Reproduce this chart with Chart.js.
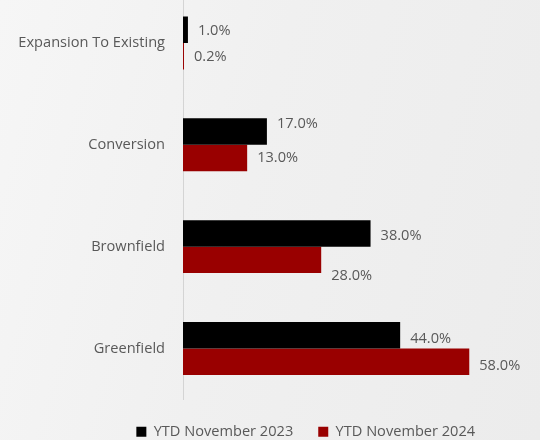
<!DOCTYPE html>
<html><head><meta charset="utf-8">
<script src="https://cdn.jsdelivr.net/npm/chart.js@4/dist/chart.umd.min.js"></script>
<style>
html,body{margin:0;padding:0;width:540px;height:440px;overflow:hidden;}
body{background:linear-gradient(105deg,#f6f6f6 0%,#f0f0f0 45%,#ececec 100%);}
#wrap{position:absolute;left:0;top:-8px;width:540px;height:457px;}
</style></head><body>
<div id="wrap"><canvas id="c"></canvas></div>
<script>
const categories = ['Expansion To Existing', 'Conversion', 'Brownfield', 'Greenfield'];
const seriesNames = ['YTD November 2023', 'YTD November 2024'];
const values2023 = [1.0, 17.0, 38.0, 44.0];
const values2024 = [0.2, 13.0, 28.0, 58.0];
const labelShift2023 = [1, -8, 2, 4];
const labelShift2024 = [1, 0, 16, 4];

const textColor = '#595959';
const fontFamily = '"Open Sans", "Noto Sans", sans-serif';
const fontSize = 14.6;

const valueLabels = {
  id: 'valueLabels',
  afterLayout(chart) { chart.scales.y.left = 0; },
  afterDatasetsDraw(chart) {
    const ctx = chart.ctx;
    const shifts = [labelShift2023, labelShift2024];
    ctx.save();
    ctx.font = fontSize + 'px ' + fontFamily;
    ctx.fillStyle = textColor;
    ctx.textAlign = 'left';
    ctx.textBaseline = 'middle';
    chart.data.datasets.forEach((ds, di) => {
      const meta = chart.getDatasetMeta(di);
      meta.data.forEach((bar, i) => {
        ctx.fillText(ds.data[i].toFixed(1) + '%', bar.x + 10, bar.y + shifts[di][i]);
      });
    });
    ctx.restore();
  }
};

new Chart(document.getElementById('c'), {
  type: 'bar',
  data: {
    labels: categories,
    datasets: [
      { label: seriesNames[0], data: values2023, backgroundColor: '#000000', borderWidth: 0,
        categoryPercentage: 0.52, barPercentage: 1.0 },
      { label: seriesNames[1], data: values2024, backgroundColor: '#990000', borderWidth: 0,
        categoryPercentage: 0.52, barPercentage: 1.0 }
    ]
  },
  options: {
    indexAxis: 'y',
    responsive: true,
    maintainAspectRatio: false,
    animation: false,
    layout: { padding: { left: 83, right: 11.5, top: 0, bottom: 0 } },
    scales: {
      x: { display: false, min: 0, max: 70 },
      y: {
        grid: { display: false, drawTicks: false },
        border: { display: true, color: '#d4d4d4', width: 1 },
        ticks: { color: textColor, padding: 18, font: { family: fontFamily, size: fontSize } },
        afterFit(scale) { scale.width = 100; scale.paddingTop = 0; scale.paddingBottom = 0; }
      }
    },
    plugins: {
      legend: {
        position: 'bottom',
        labels: { color: textColor, boxWidth: 10, boxHeight: 10, padding: 25,
          font: { family: fontFamily, size: fontSize } }
      },
      tooltip: { enabled: false }
    }
  },
  plugins: [valueLabels]
});
</script>
</body></html>
